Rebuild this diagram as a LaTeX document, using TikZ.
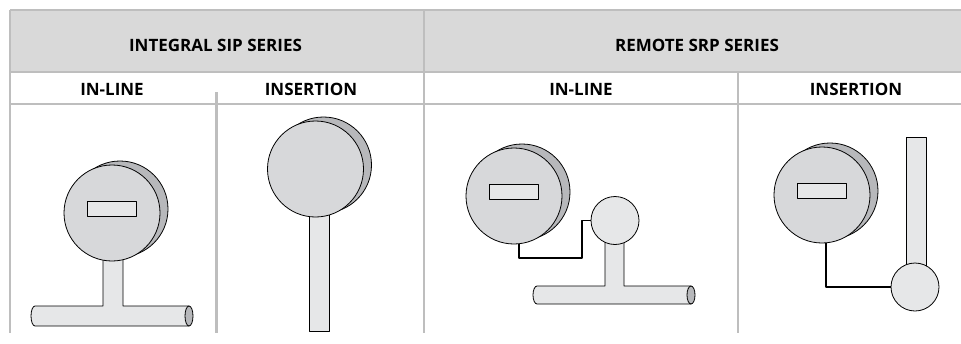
\documentclass[tikz,border=0pt]{standalone}
\usepackage{fontspec}
\setmainfont{Open Sans}
\usetikzlibrary{positioning, calc}
\definecolor{rulegray}{RGB}{190,190,190}
\definecolor{headgray}{RGB}{217,217,217}
\definecolor{facegray}{RGB}{215,216,218}
\definecolor{rimgray}{RGB}{183,184,187}
\definecolor{pipegray}{RGB}{230,231,232}

\begin{document}
\begin{tikzpicture}[x=1pt, y=-1pt, line join=round,
    hdr/.style={anchor=base, font=\bfseries\fontsize{17}{19}\selectfont},
    rule/.style={rulegray, line width=2.5pt},
    face/.style={circle, draw, line width=0.8pt, fill=facegray, minimum size=96pt, inner sep=0pt},
    rim/.style={face, fill=rimgray},
    head/.style={circle, draw, line width=0.8pt, fill=pipegray, minimum size=48pt, inner sep=0pt},
    display/.style={draw, line width=0.8pt, fill=pipegray, minimum width=49pt, minimum height=15pt, inner sep=0pt},
    part/.style={draw, line width=0.8pt, fill=pipegray},
    cable/.style={line width=1.5pt}]
  \useasboundingbox (0,0) rectangle (961,343);

  % table
  \fill[headgray] (10,10) rectangle (961,72);
  \draw[rule] (10,10) -- (961,10);
  \draw[rule] (10,72) -- (961,72);
  \draw[rule] (10,104) -- (961,104);
  \draw[rule] (10,10) -- (10,333);
  \draw[rule] (424,10) -- (424,333);
  \draw[rule] (738,72) -- (738,333);
  \draw[rule] (216.5,92) -- (216.5,333);

  \node[hdr] (integral) at (215.5,51) {INTEGRAL SIP SERIES};
  \node[hdr] (remote) at (697,51) {REMOTE SRP SERIES};
  \node[hdr] (inline1) at (112,95.5) {IN-LINE};
  \node[hdr] (insert1) at (311,95.5) {INSERTION};
  \node[hdr] (inline2) at (581,95.5) {IN-LINE};
  \node[hdr] (insert2) at (856,95.5) {INSERTION};

  % integral, in-line
  \draw[part] (103,250) -- (103,306) -- (35,306)
    arc[start angle=270, end angle=90, x radius=4, y radius=10]
    -- (189,326) -- (189,306) -- (123,306) -- (123,250) -- cycle;
  \draw[part, fill=rimgray] (189,316) ellipse[x radius=4, y radius=10];
  \node[rim] (rim1) at (120,209) {};
  \node[face] (face1) at (112,213) {};
  \node[display] (disp1) at ($(face1)+(0,-4.5)$) {};

  % integral, insertion
  \draw[part] (309,200) rectangle (329,331);
  \node[rim] (rim2) at (323.5,165) {};
  \node[face] (face2) at (315.5,169) {};

  % remote, in-line
  \draw[part] (605,225) -- (605,286) -- (537,286)
    arc[start angle=270, end angle=90, x radius=4, y radius=9]
    -- (691,304) -- (691,286) -- (624,286) -- (624,225) -- cycle;
  \draw[part, fill=rimgray] (691,295) ellipse[x radius=4, y radius=9];
  \node[head] (head3) at (615,220.5) {};
  \node[rim] (rim3) at (522,192) {};
  \node[face] (face3) at (514,196) {};
  \node[display] (disp3) at ($(face3)+(0,-4.5)$) {};
  \coordinate (bend3) at (582,258);
  \draw[cable] (face3.276) |- (bend3) |- (head3.west);

  % remote, insertion
  \draw[part] (906,137) rectangle (926,280);
  \node[head] (head4) at (915,287) {};
  \node[rim] (rim4) at (830,191) {};
  \node[face] (face4) at (822,195) {};
  \node[display] (disp4) at ($(face4)+(0,-4.5)$) {};
  \draw[cable] (face4.275) |- (head4.west);
\end{tikzpicture}
\end{document}
